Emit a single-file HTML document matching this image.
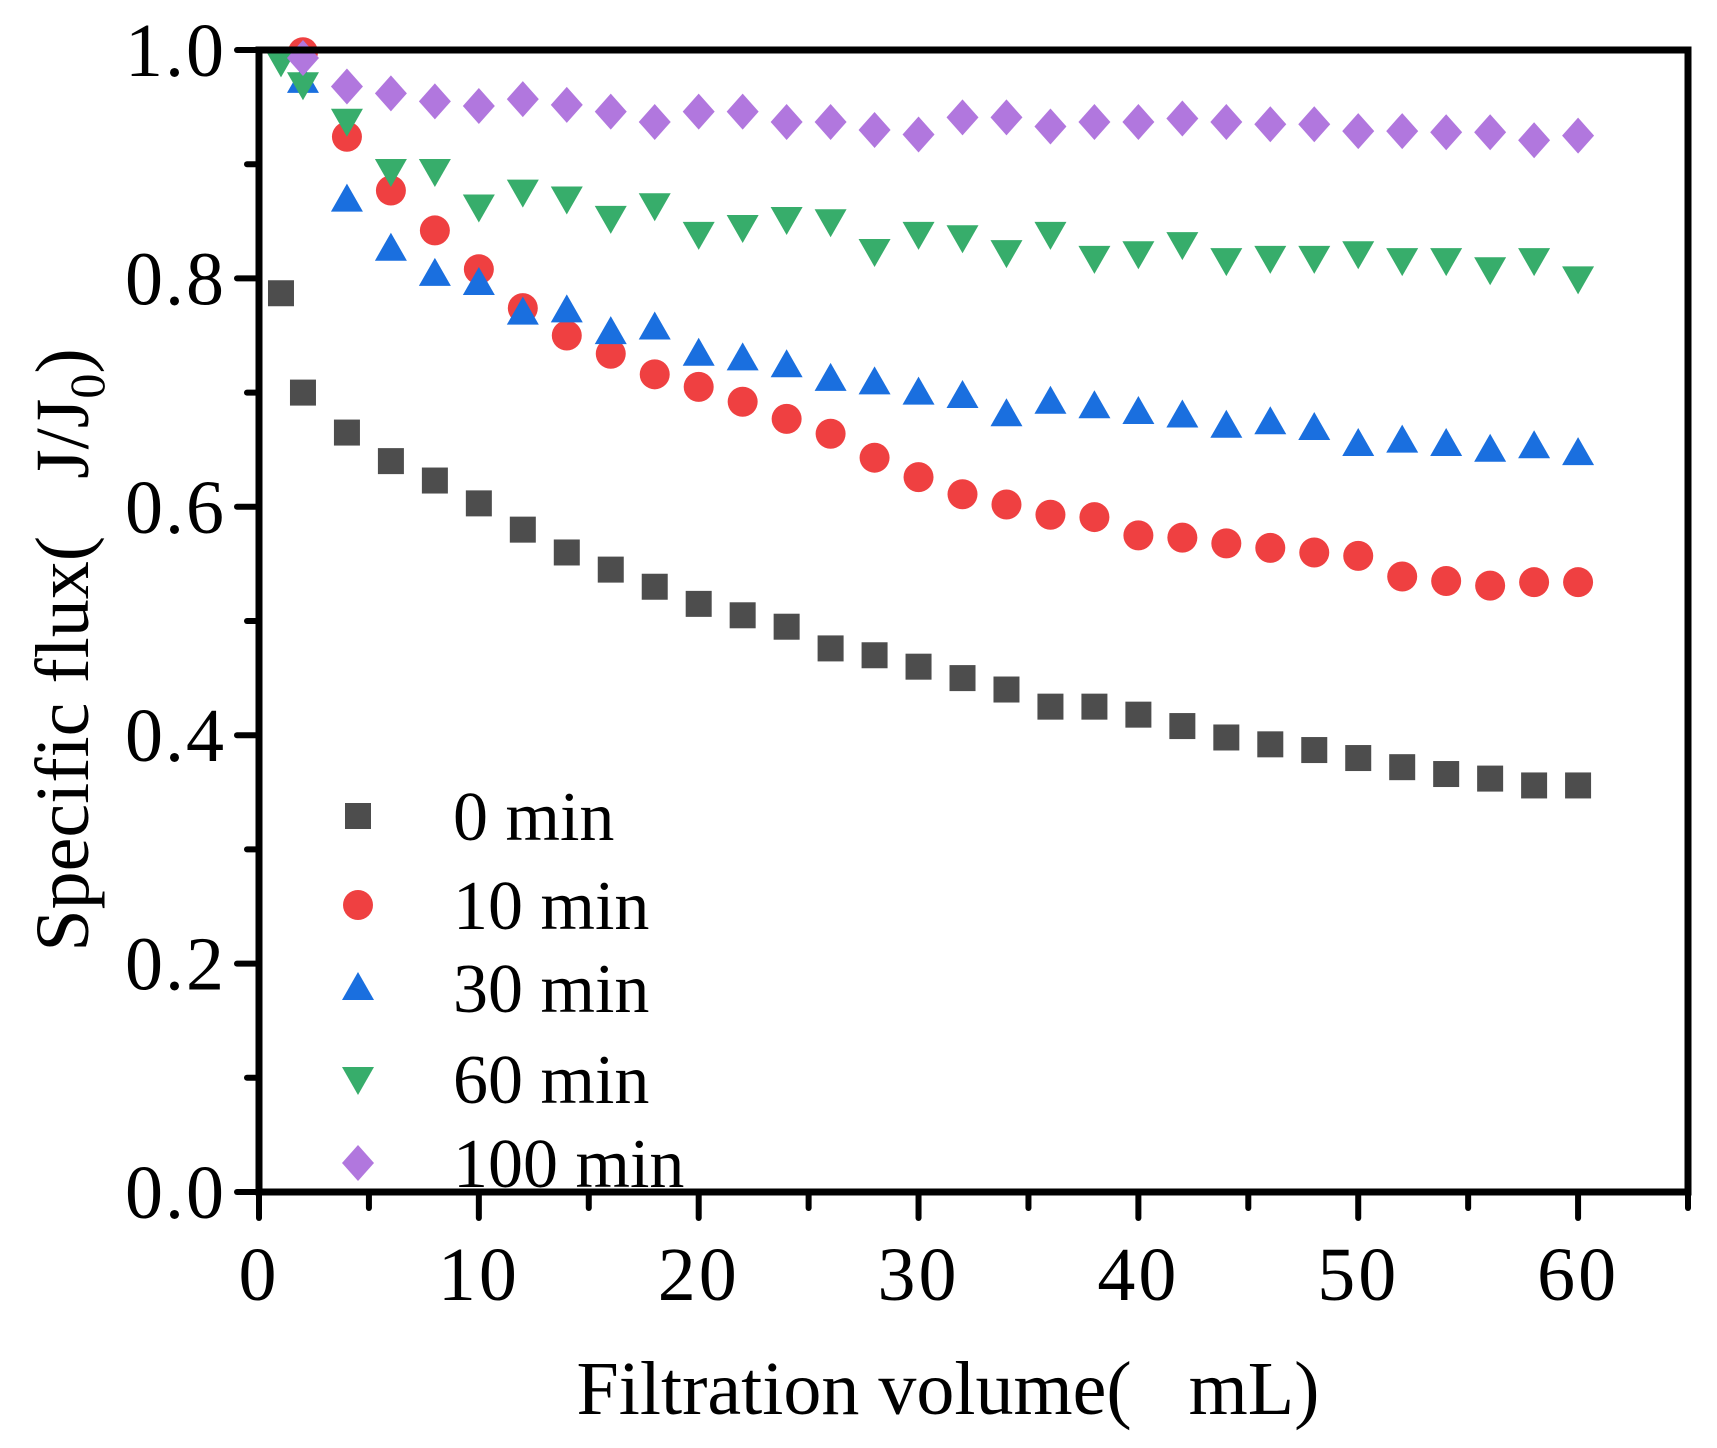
<!DOCTYPE html>
<html><head><meta charset="utf-8"><style>
html,body{margin:0;padding:0;background:#fff;}
svg{display:block;font-family:"Liberation Serif",serif;}
</style></head><body>
<svg id="chart" width="1717" height="1448" viewBox="0 0 1717 1448" xmlns="http://www.w3.org/2000/svg">
<rect width="1717" height="1448" fill="#fff"/>
<g id="marks"></g>
<g id="axes"></g>
<text x="948" y="1414" font-size="76" text-anchor="middle">Filtration volume(&#160;&#160;&#160;mL)</text>
<text transform="translate(88,650) rotate(-90)" font-size="76" text-anchor="middle">Specific flux(&#160;&#160;&#160;J/J<tspan font-size="50" dy="16">0</tspan><tspan dy="-16">)</tspan></text>
<g id="legend"></g>
</svg>
<script>
const xTicks=[0,10,20,30,40,50,60];
const yTicks=[0,0.2,0.4,0.6,0.8,1.0];
const yTickLabels=["0.0","0.2","0.4","0.6","0.8","1.0"];
const seriesNames=["0 min","10 min","30 min","60 min","100 min"];
const xs0=[1,2,4,6,8,10,12,14,16,18,20,22,24,26,28,30,32,34,36,38,40,42,44,46,48,50,52,54,56,58,60];
const ys0=[0.787,0.70,0.665,0.64,0.623,0.603,0.58,0.56,0.545,0.53,0.515,0.505,0.495,0.476,0.47,0.46,0.45,0.44,0.425,0.425,0.418,0.408,0.398,0.392,0.387,0.38,0.372,0.366,0.362,0.356,0.356];
const xs1=[2,4,6,8,10,12,14,16,18,20,22,24,26,28,30,32,34,36,38,40,42,44,46,48,50,52,54,56,58,60];
const ys1=[0.998,0.924,0.877,0.842,0.808,0.774,0.75,0.734,0.716,0.705,0.692,0.677,0.664,0.643,0.626,0.611,0.602,0.593,0.591,0.575,0.573,0.568,0.564,0.56,0.557,0.539,0.535,0.531,0.534,0.534];
const xs2=[2,4,6,8,10,12,14,16,18,20,22,24,26,28,30,32,34,36,38,40,42,44,46,48,50,52,54,56,58,60];
const ys2=[0.973,0.869,0.826,0.804,0.796,0.77,0.772,0.753,0.757,0.734,0.73,0.724,0.712,0.709,0.70,0.697,0.681,0.692,0.688,0.683,0.68,0.671,0.674,0.669,0.655,0.658,0.655,0.65,0.653,0.647];
const xs3=[1,2,4,6,8,10,12,14,16,18,20,22,24,26,28,30,32,34,36,38,40,42,44,46,48,50,52,54,56,58,60];
const ys3=[0.99,0.97,0.938,0.894,0.894,0.863,0.876,0.87,0.853,0.864,0.839,0.845,0.852,0.85,0.824,0.839,0.836,0.823,0.839,0.818,0.822,0.83,0.816,0.818,0.818,0.822,0.816,0.816,0.808,0.816,0.80];
const xs4=[2,4,6,8,10,12,14,16,18,20,22,24,26,28,30,32,34,36,38,40,42,44,46,48,50,52,54,56,58,60];
const ys4=[0.993,0.968,0.962,0.955,0.951,0.957,0.952,0.946,0.937,0.946,0.946,0.937,0.937,0.93,0.926,0.941,0.941,0.933,0.937,0.937,0.94,0.937,0.935,0.935,0.929,0.929,0.928,0.928,0.921,0.925];

const L=259,R=1688,T=50,B=1192,XMAX=65;
const sx=v=>L+v/XMAX*(R-L);
const sy=v=>B-v*(B-T);
const NS="http://www.w3.org/2000/svg";
function mk(tag,attrs,parent){const e=document.createElementNS(NS,tag);for(const k in attrs)e.setAttribute(k,attrs[k]);parent.appendChild(e);return e;}
const colors=["#4d4d4d","#ef4041","#1a6fdf","#37ad6b","#b177de"];
function marker(type,x,y,parent,s){
  let e;
  if(type===0){e=mk('rect',{x:x-13*s,y:y-13*s,width:26*s,height:26*s,fill:colors[0]},parent);}
  else if(type===1){e=mk('circle',{cx:x,cy:y,r:15*s,fill:colors[1]},parent);}
  else if(type===2){e=mk('polygon',{points:`${x},${y-16*s} ${x-16*s},${y+12*s} ${x+16*s},${y+12*s}`,fill:colors[2]},parent);}
  else if(type===3){e=mk('polygon',{points:`${x},${y+16*s} ${x-16*s},${y-12*s} ${x+16*s},${y-12*s}`,fill:colors[3]},parent);}
  else {e=mk('polygon',{points:`${x},${y-18*s} ${x+16*s},${y} ${x},${y+18*s} ${x-16*s},${y}`,fill:colors[4]},parent);}
  return e;
}
const marks=document.getElementById('marks');
const allX=[xs0,xs1,xs2,xs3,xs4],allY=[ys0,ys1,ys2,ys3,ys4];
[0,1,2,3,4].forEach(si=>{
  const g=mk('g',{},marks);
  
  
  allX[si].forEach((xv,i)=>{
    const m=marker(si,sx(xv),sy(allY[si][i]),g,1);
    
    
  });
});
const axes=document.getElementById('axes');
const frame=mk('rect',{x:L,y:T,width:R-L,height:B-T,fill:'none',stroke:'#000','stroke-width':7},axes);


for(let v=0;v<=XMAX;v+=5){
  const major=v%10===0;
  const t=mk('line',{x1:sx(v),x2:sx(v),y1:B,y2:B+(major?26:16),stroke:'#000','stroke-width':6,'stroke-linecap':'round'},axes);
  
  
}
xTicks.forEach(v=>{
  const t=mk('text',{x:sx(v),y:1300,'font-size':76,'text-anchor':'middle','letter-spacing':3},axes);
  t.textContent=v;
  
  
});
for(let k=0;k<=10;k++){
  const v=k/10,major=k%2===0;
  const t=mk('line',{x1:L,x2:L-(major?22:12),y1:sy(v),y2:sy(v),stroke:'#000','stroke-width':6,'stroke-linecap':'round'},axes);
  
  
}
yTicks.forEach((v,i)=>{
  const t=mk('text',{x:226,y:sy(v)+26,'font-size':76,'text-anchor':'end','letter-spacing':2},axes);
  t.textContent=yTickLabels[i];
  
  
});
const legend=document.getElementById('legend');
const ly=[816,905,988,1079,1163];
seriesNames.forEach((n,i)=>{
  const g=mk('g',{},legend);
  
  
  marker(i,358,ly[i],g,1);
  const t=mk('text',{x:453,y:ly[i]+24,'font-size':70},g);
  t.textContent=n;
});
</script>
</body></html>
